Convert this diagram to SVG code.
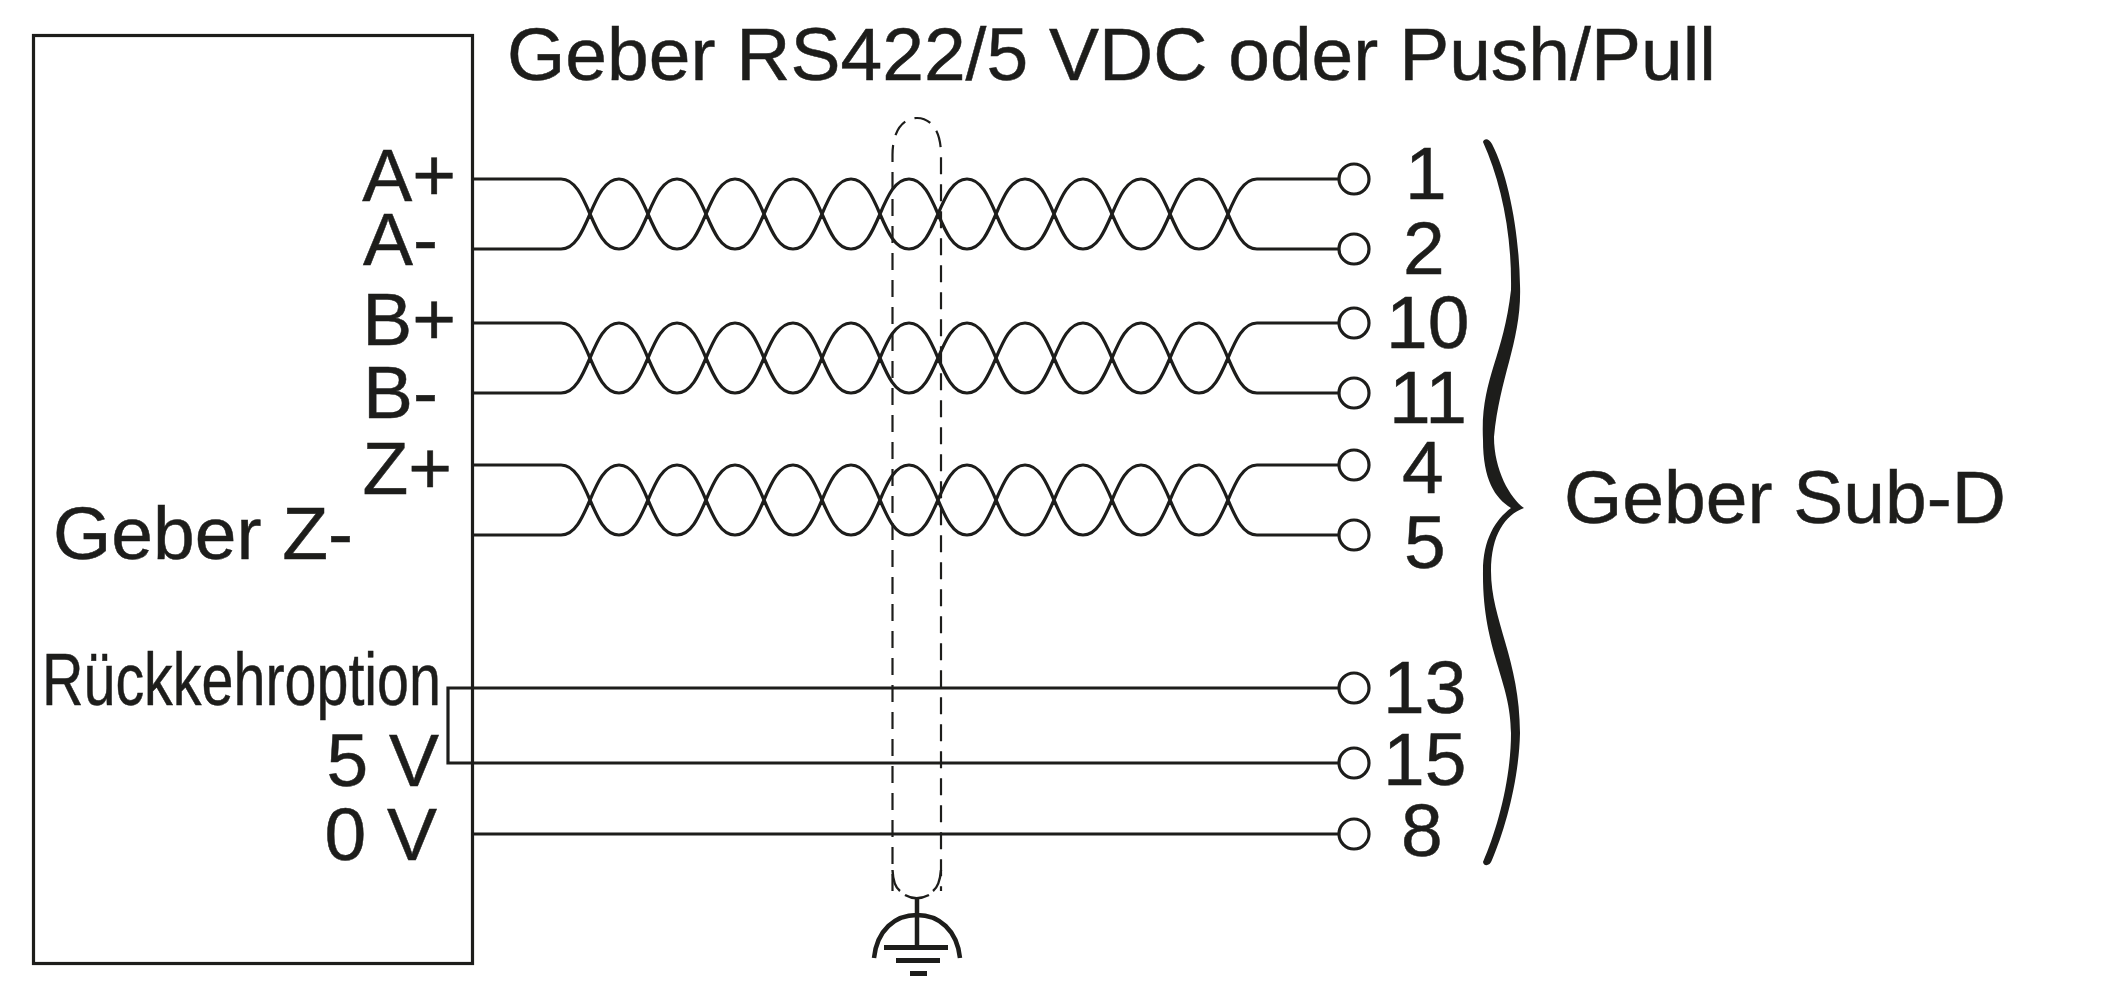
<svg xmlns="http://www.w3.org/2000/svg" width="2108" height="992" viewBox="0 0 2108 992">
<style>
text{font-family:"Liberation Sans",Arial,sans-serif;font-size:75px;fill:#1d1d1b;stroke:#1d1d1b;stroke-width:.5}
.w{fill:none;stroke:#1d1d1b;stroke-width:3.200}
.pin{fill:#fff;stroke:#1d1d1b;stroke-width:3.200}
.d{fill:none;stroke:#1d1d1b;stroke-width:2.200;stroke-dasharray:17 10}
.k{fill:#1d1d1b;stroke:none}
.e{text-anchor:end}
</style>
<defs>
<path id="pair" class="w" d="M472 0H561c28 0 30 70 58 70c28 0 30 -70 58 -70c28 0 30 70 58 70c28 0 30 -70 58 -70c28 0 30 70 58 70c28 0 30 -70 58 -70c28 0 30 70 58 70c28 0 30 -70 58 -70c28 0 30 70 58 70c28 0 30 -70 58 -70c28 0 30 70 58 70c28 0 30 -70 58 -70H1340M472 70H561c28 0 30 -70 58 -70c28 0 30 70 58 70c28 0 30 -70 58 -70c28 0 30 70 58 70c28 0 30 -70 58 -70c28 0 30 70 58 70c28 0 30 -70 58 -70c28 0 30 70 58 70c28 0 30 -70 58 -70c28 0 30 70 58 70c28 0 30 -70 58 -70c28 0 30 70 58 70H1340"/>
</defs>
<g id="geber-box"><rect class="w" x="33.500" y="35.500" width="439" height="928"/></g>
<g id="title"><text x="507" y="80">Geber RS422/5 VDC oder Push/Pull</text></g>
<g id="connectors">
<use href="#pair" y="179"/>
<use href="#pair" y="323"/>
<use href="#pair" y="465"/>
<path class="w" d="M1340 688H448V763H1340M472 834H1340"/>
</g>
<g id="shield"><path class="d" d="M892.500 891V155C892.500 128 905 118 917 118C929 118 941 128 941 155V891"/><path class="w" style="stroke-width:2.400" d="M892.500 870C893 882 896 888 900 891M941 870C940 882 937 888 933 891M905 895C912 899 921 899 929 895"/></g>
<g id="earth"><path class="w" style="stroke-width:4.500" d="M917 897V948M874 958C877 930 895 915 917 915C939 915 957 930 960 958"/><path class="k" d="M884 945h64v5h-64zM896 958h44v5h-44zM910 971h17v5h-17z"/></g>
<g id="pin-labels-left">
<text class="e" x="456" y="201">A+</text><text class="e" x="438" y="265">A-</text>
<text class="e" x="456" y="345">B+</text><text class="e" x="438" y="418">B-</text>
<text class="e" x="452" y="494">Z+</text>
<text x="53" y="559">Geber Z-</text>
<text x="42" y="705" textLength="399" lengthAdjust="spacingAndGlyphs">Rückkehroption</text>
<text class="e" x="439" y="786">5 V</text><text class="e" x="437" y="860">0 V</text>
</g>
<g id="pins">
<circle class="pin" cx="1354" cy="179" r="15"/><circle class="pin" cx="1354" cy="249" r="15"/>
<circle class="pin" cx="1354" cy="323" r="15"/><circle class="pin" cx="1354" cy="393" r="15"/>
<circle class="pin" cx="1354" cy="465" r="15"/><circle class="pin" cx="1354" cy="535" r="15"/>
<circle class="pin" cx="1354" cy="688" r="15"/><circle class="pin" cx="1354" cy="763" r="15"/>
<circle class="pin" cx="1354" cy="834" r="15"/>
</g>
<g id="pin-numbers">
<text x="1405" y="199">1</text><text x="1403" y="274">2</text>
<text x="1386" y="348">10</text><text x="1389" y="423">11</text>
<text x="1402" y="493">4</text><text x="1404" y="568">5</text>
<text x="1383" y="713">13</text><text x="1383" y="785">15</text>
<text x="1401" y="856">8</text>
</g>
<g id="brace"><path class="k" d="M1483 142C1484 138 1489 138 1492 144C1508 175 1519 230 1520 285C1522 340 1500 375 1494 437C1494 470 1510 498 1524 508C1505 515 1491 535 1491 571C1491 620 1520 660 1520 733C1519 780 1505 830 1492 860C1490 866 1484 867 1483 862C1497 830 1511 780 1511 733C1511 680 1482 650 1483 571C1483 540 1495 520 1511 508C1495 498 1483 480 1483 440C1480 380 1503 360 1511 290C1512 230 1500 180 1483 142Z"/></g>
<g id="subd-label"><text x="1564" y="523">Geber Sub-D</text></g>
</svg>
